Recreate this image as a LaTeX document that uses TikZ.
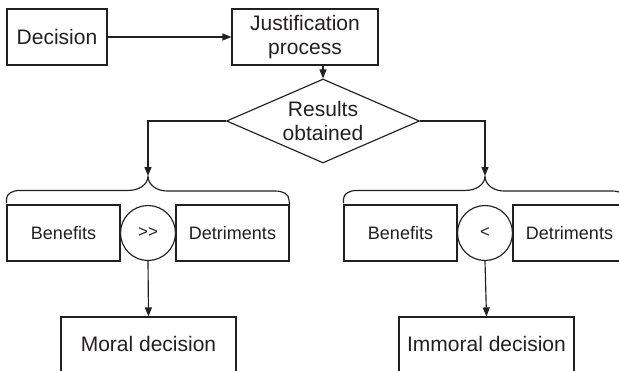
\documentclass[tikz,border=0pt]{standalone}
\usepackage{fontspec}
\setmainfont{Liberation Sans}
\usetikzlibrary{arrows.meta,shapes.geometric}
\definecolor{ink}{HTML}{231F20}
\begin{document}
\begin{tikzpicture}[x=1pt,y=-1pt,line width=1.15pt,color=ink,
  box/.style={draw,rectangle,inner sep=0pt,align=center,
    font=\fontsize{21}{24.5}\selectfont},
  small/.style={box,font=\fontsize{18}{21}\selectfont},
  outcome/.style={box,minimum width=175pt,minimum height=70pt,
    text height=15pt,text depth=16pt},
  cmp/.style={draw,circle,inner sep=0pt,minimum size=55pt,
    font=\fontsize{17}{20}\selectfont},
  arr/.style={-{Triangle[length=9pt,width=7pt]}},
  brace/.style={line join=round}]
\clip (0,0) rectangle (619,370);
\fill[white] (0,0) rectangle (619,370);

% top row
\node[box,minimum width=100pt,minimum height=56pt] (dec) at (57,37) {Decision};
\node[box,minimum width=146pt,minimum height=56pt] (just) at (305,37) {Justification\\process};
\node[draw,diamond,inner sep=0pt,minimum width=193pt,minimum height=84pt] (res) at (323,121) {};
\node[box,draw=none] (restext) at (res.center) {Results\\obtained};

\draw[arr] (dec.east) -- (just.west);
\draw[arr] (just.south -| res.north) -- (res.north);

% left outcome
\coordinate (tipL) at (148,176);
\node[small,minimum width=113pt,minimum height=56pt] (benL) at (63.5,233) {Benefits};
\node[cmp] (gtL) at (148,233) {>{}>};
\node[small,minimum width=113pt,minimum height=56pt] (detL) at (232.5,233) {Detriments};
\node[outcome] (moral) at (148.5,352) {Moral decision};

\draw[arr] (res.west) -| (tipL);
\draw[brace] (benL.north west) ++(0,-1) -- ++(0,-4)
  .. controls ++(0,-6) and ++(-8,0) .. ++(14,-9) -- ++(108,0)
  .. controls ++(10,0) and ++(0,9) .. (tipL)
  .. controls ++(0,9) and ++(-10,0) .. ++(19,15) -- ++(108,0)
  .. controls ++(8,0) and ++(0,-6) .. ++(14,9) -- (detL.north east);
\draw[arr] (gtL.south) -- (moral.north);

% right outcome
\coordinate (tipR) at (485,176);
\node[small,minimum width=113pt,minimum height=56pt] (benR) at (400.5,233) {Benefits};
\node[cmp] (ltR) at (485,233) {<};
\node[small,minimum width=113pt,minimum height=56pt] (detR) at (569.5,233) {Detriments};
\node[outcome] (immoral) at (486.5,352) {Immoral decision};

\draw[arr] (res.east) -| (tipR);
\draw[brace] (benR.north west) ++(0,-1) -- ++(0,-4)
  .. controls ++(0,-6) and ++(-8,0) .. ++(14,-9) -- ++(108,0)
  .. controls ++(10,0) and ++(0,9) .. (tipR)
  .. controls ++(0,9) and ++(-10,0) .. ++(19,15) -- ++(108,0)
  .. controls ++(8,0) and ++(0,-6) .. ++(14,9) -- (detR.north east);
\draw[arr] (ltR.south) -- (immoral.north);
\end{tikzpicture}
\end{document}
